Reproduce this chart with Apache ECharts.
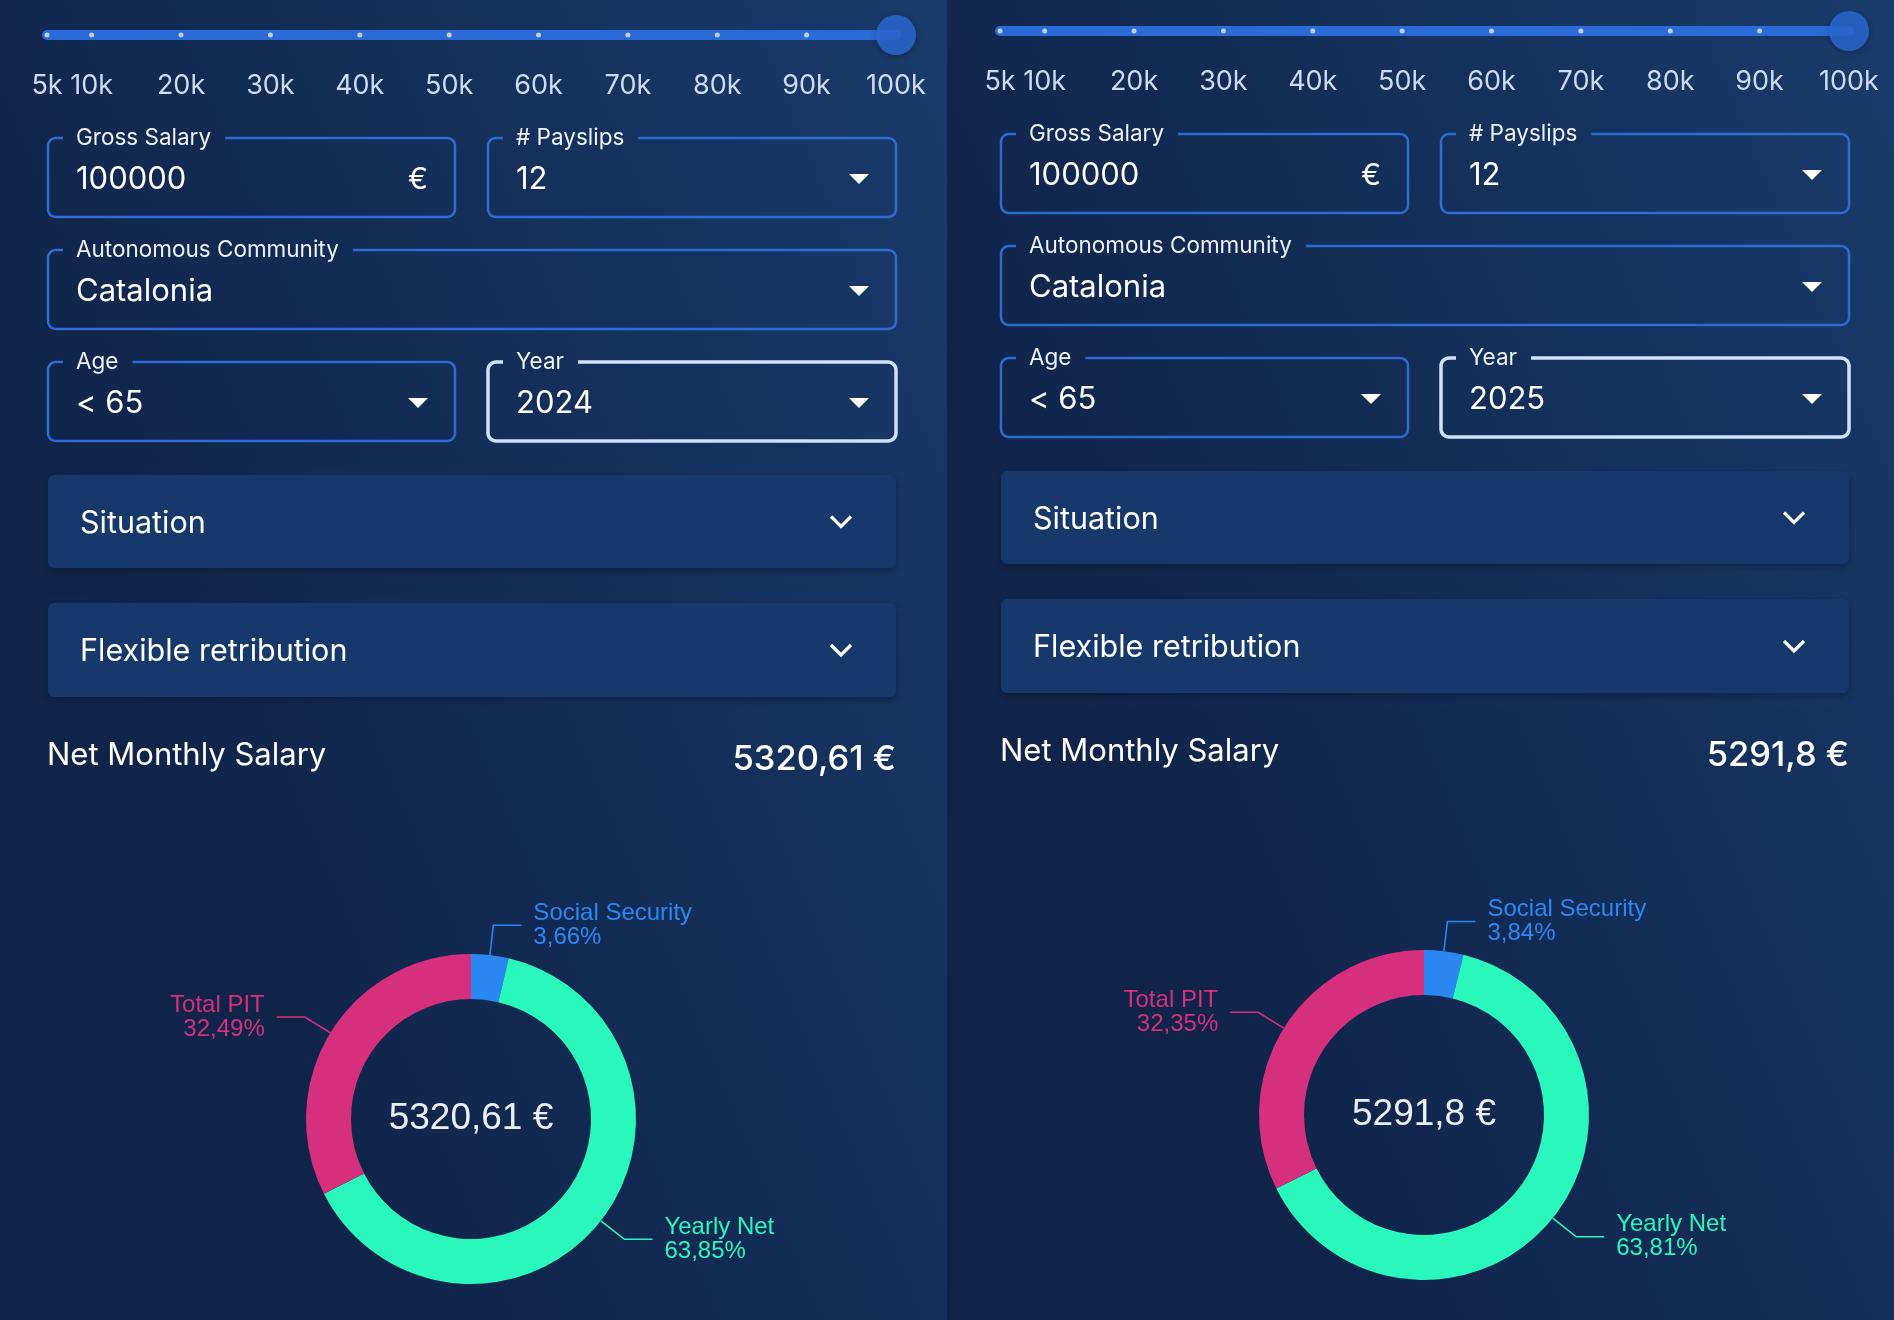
<!DOCTYPE html>
<html><head><meta charset="utf-8">
<script src="https://cdn.jsdelivr.net/npm/echarts@6/dist/echarts.min.js"></script>
<style>html,body{margin:0;padding:0;background:#12284c;}#c{width:1894px;height:1320px;}</style>
</head><body><div id="c"></div>
<script>
// ---------------- data ----------------
const sliderTickValues = [5000, 10000, 20000, 30000, 40000, 50000, 60000, 70000, 80000, 90000, 100000];
const sliderTickLabels = ['5k', '10k', '20k', '30k', '40k', '50k', '60k', '70k', '80k', '90k', '100k'];
const grossSalary = 100000;
const grossSalaryText = '100000';
const payslips = '12';
const community = 'Catalonia';
const ageGroup = '< 65';
const years = ['2024', '2025'];
const netMonthly = ['5320,61 €', '5291,8 €'];
const sliceNames = ['Social Security', 'Yearly Net', 'Total PIT'];
const sliceColors = ['#2b88f2', '#2af7bb', '#d52f7e'];
const shares2024 = [3.66, 63.85, 32.49];
const shares2025 = [3.84, 63.81, 32.35];
const panelShares = [shares2024, shares2025];

// ---------------- layout ----------------
const UI = 'Inter, Roboto, sans-serif';
const PIEFONT = '"Liberation Sans", Arial, sans-serif';
const offsets = [[0, 0], [953, -4]];
const ctx = document.createElement('canvas').getContext('2d');
function tw(text, size, weight) { ctx.font = (weight || 400) + ' ' + size + 'px Inter'; return ctx.measureText(text).width; }

function arcPts(cx, cy, r, a0, a1) {
  const pts = [];
  for (let i = 0; i <= 8; i++) { const a = (a0 + (a1 - a0) * i / 8) * Math.PI / 180; pts.push([cx + r * Math.cos(a), cy + r * Math.sin(a)]); }
  return pts;
}
function gapBox(x, y, w, h, r, g0, g1) {
  let p = [[g1, y]];
  p = p.concat(arcPts(x + w - r, y + r, r, -90, 0));
  p = p.concat(arcPts(x + w - r, y + h - r, r, 0, 90));
  p = p.concat(arcPts(x + r, y + h - r, r, 90, 180));
  p = p.concat(arcPts(x + r, y + r, r, 180, 270));
  p.push([g0, y]);
  return p;
}
function txt(x, y, text, size, color, align, weight, family) {
  return { type: 'text', x: x, y: y, z: 10, silent: true,
    style: { text: text, fontSize: size, fontFamily: family || UI, fontWeight: weight || 400, fill: color,
      textAlign: align || 'left', textVerticalAlign: 'middle', align: align || 'left', verticalAlign: 'middle' } };
}

const graphics = [];
const grids = [], xAxes = [], yAxes = [], series = [];

offsets.forEach(function (off, i) {
  const ox = off[0], oy = off[1];
  // background
  graphics.push({ type: 'rect', z: -100, silent: true, shape: { x: i === 0 ? 0 : 947, y: 0, width: 947, height: 1320 },
    style: { fill: { type: 'linear', x: 0, y: 0.3, x2: 1, y2: 0, colorStops: [
      { offset: 0, color: '#10244a' }, { offset: 0.55, color: '#14305b' }, { offset: 1, color: '#1a3b6c' }] } } });

  // slider axis
  grids.push({ left: 47 + ox, width: 849, top: 15 + oy, height: 40 });
  xAxes.push({ type: 'value', gridIndex: i, min: 5000, max: 100000, position: 'bottom',
    axisLine: { show: false }, splitLine: { show: false },
    axisTick: { show: false, customValues: sliderTickValues },
    axisLabel: { customValues: sliderTickValues, margin: 17, fontSize: 27, fontFamily: UI, color: '#cddcf3',
      formatter: function (v) { return sliderTickLabels[sliderTickValues.indexOf(v)]; } } });
  yAxes.push({ type: 'value', gridIndex: i, min: -1, max: 1, show: false });
  series.push({ type: 'line', xAxisIndex: i, yAxisIndex: i, data: [[5000, 0], [grossSalary, 0]], symbol: 'none', silent: true,
    lineStyle: { width: 10, color: '#2a6bd8', cap: 'round' }, z: 2 });
  series.push({ type: 'scatter', xAxisIndex: i, yAxisIndex: i, silent: true, z: 3,
    data: sliderTickValues.filter(function (v) { return v < grossSalary; }).map(function (v) { return [v, 0]; }),
    symbolSize: 5, itemStyle: { color: '#e3ecff' } });
  series.push({ type: 'scatter', xAxisIndex: i, yAxisIndex: i, silent: true, z: 4, data: [[grossSalary, 0]], symbolSize: 40,
    itemStyle: { color: '#2a6bd8', shadowBlur: 6, shadowColor: 'rgba(0,0,0,0.35)', shadowOffsetY: 2 } });

  // fields
  const fields = [
    { x: 48, y: 138, w: 407, label: 'Gross Salary', value: grossSalaryText, suffix: '€' },
    { x: 488, y: 138, w: 408, label: '# Payslips', value: payslips, tri: true },
    { x: 48, y: 250, w: 848, label: 'Autonomous Community', value: community, tri: true },
    { x: 48, y: 362, w: 407, label: 'Age', value: ageGroup, tri: true },
    { x: 488, y: 362, w: 408, label: 'Year', value: years[i], tri: true, focus: true }
  ];
  fields.forEach(function (f) {
    const x = f.x + ox, y = f.y + oy, h = 79;
    const lw = tw(f.label, 22.5);
    graphics.push({ type: 'polyline', z: 5, silent: true, shape: { points: gapBox(x, y, f.w, h, 8, x + 15, x + 28 + lw + 14) },
      style: { fill: null, stroke: f.focus ? '#cfe2ff' : '#2e6cd3', lineWidth: f.focus ? 3.5 : 2.5 } });
    graphics.push(txt(x + 28, y, f.label, 22.5, '#eef3fb'));
    graphics.push(txt(x + 28, y + 42, f.value, 31, '#ffffff'));
    const cx = x + f.w - 37, cy = y + 41;
    if (f.tri) graphics.push({ type: 'polygon', z: 10, silent: true, shape: { points: [[cx - 10, cy - 5], [cx + 10, cy - 5], [cx, cy + 5]] }, style: { fill: '#ffffff' } });
    if (f.suffix) graphics.push(txt(cx, cy + 1, f.suffix, 30, '#ffffff', 'center'));
  });

  // accordions
  [{ y: 475, h: 93, text: 'Situation' }, { y: 603, h: 94, text: 'Flexible retribution' }].forEach(function (a) {
    const y = a.y + oy;
    graphics.push({ type: 'rect', z: 4, silent: true, shape: { x: 48 + ox, y: y, width: 848, height: a.h, r: 6 },
      style: { fill: '#16386a', shadowBlur: 8, shadowColor: 'rgba(4,14,35,0.45)', shadowOffsetY: 3 } });
    graphics.push(txt(80 + ox, y + a.h / 2 + 2, a.text, 30.5, '#ffffff'));
    const cx = 841 + ox, cy = y + a.h / 2;
    graphics.push({ type: 'polyline', z: 10, silent: true, shape: { points: [[cx - 10, cy - 5], [cx, cy + 5], [cx + 10, cy - 5]] },
      style: { fill: null, stroke: '#ffffff', lineWidth: 3.2 } });
  });

  // net monthly
  graphics.push(txt(47 + ox, 756 + oy, 'Net Monthly Salary', 31, '#ffffff'));
  graphics.push(txt(896 + ox, 760 + oy, netMonthly[i], 34.5, '#ffffff', 'right', 500));

  // donut
  const cxp = 471 + ox, cyp = 1119 + oy;
  series.push({ type: 'pie', center: [cxp, cyp], radius: [120, 165], startAngle: 90, clockwise: true, silent: true,
    avoidLabelOverlap: false, emphasis: { disabled: true },
    data: panelShares[i].map(function (v, k) {
      return { name: sliceNames[k], value: v, itemStyle: { color: sliceColors[k] }, label: { color: sliceColors[k] } };
    }),
    label: { show: true, position: 'outside', fontFamily: PIEFONT, fontSize: 24, lineHeight: 24, distanceToLabelLine: 12,
      formatter: function (p) { return p.name + '\n' + p.value.toFixed(2).replace('.', ',') + '%'; } },
    labelLine: { show: true, length: 30, length2: 28, lineStyle: { width: 1.5 } } });
  graphics.push(txt(cxp, cyp, netMonthly[i], 37, '#eaf0fa', 'center', 400, PIEFONT));
});

const chart = echarts.init(document.getElementById('c'), null, { renderer: 'canvas' });
chart.setOption({
  animation: false,
  backgroundColor: '#12284c',
  grid: grids, xAxis: xAxes, yAxis: yAxes, series: series,
  graphic: { elements: graphics }
});
</script></body></html>
